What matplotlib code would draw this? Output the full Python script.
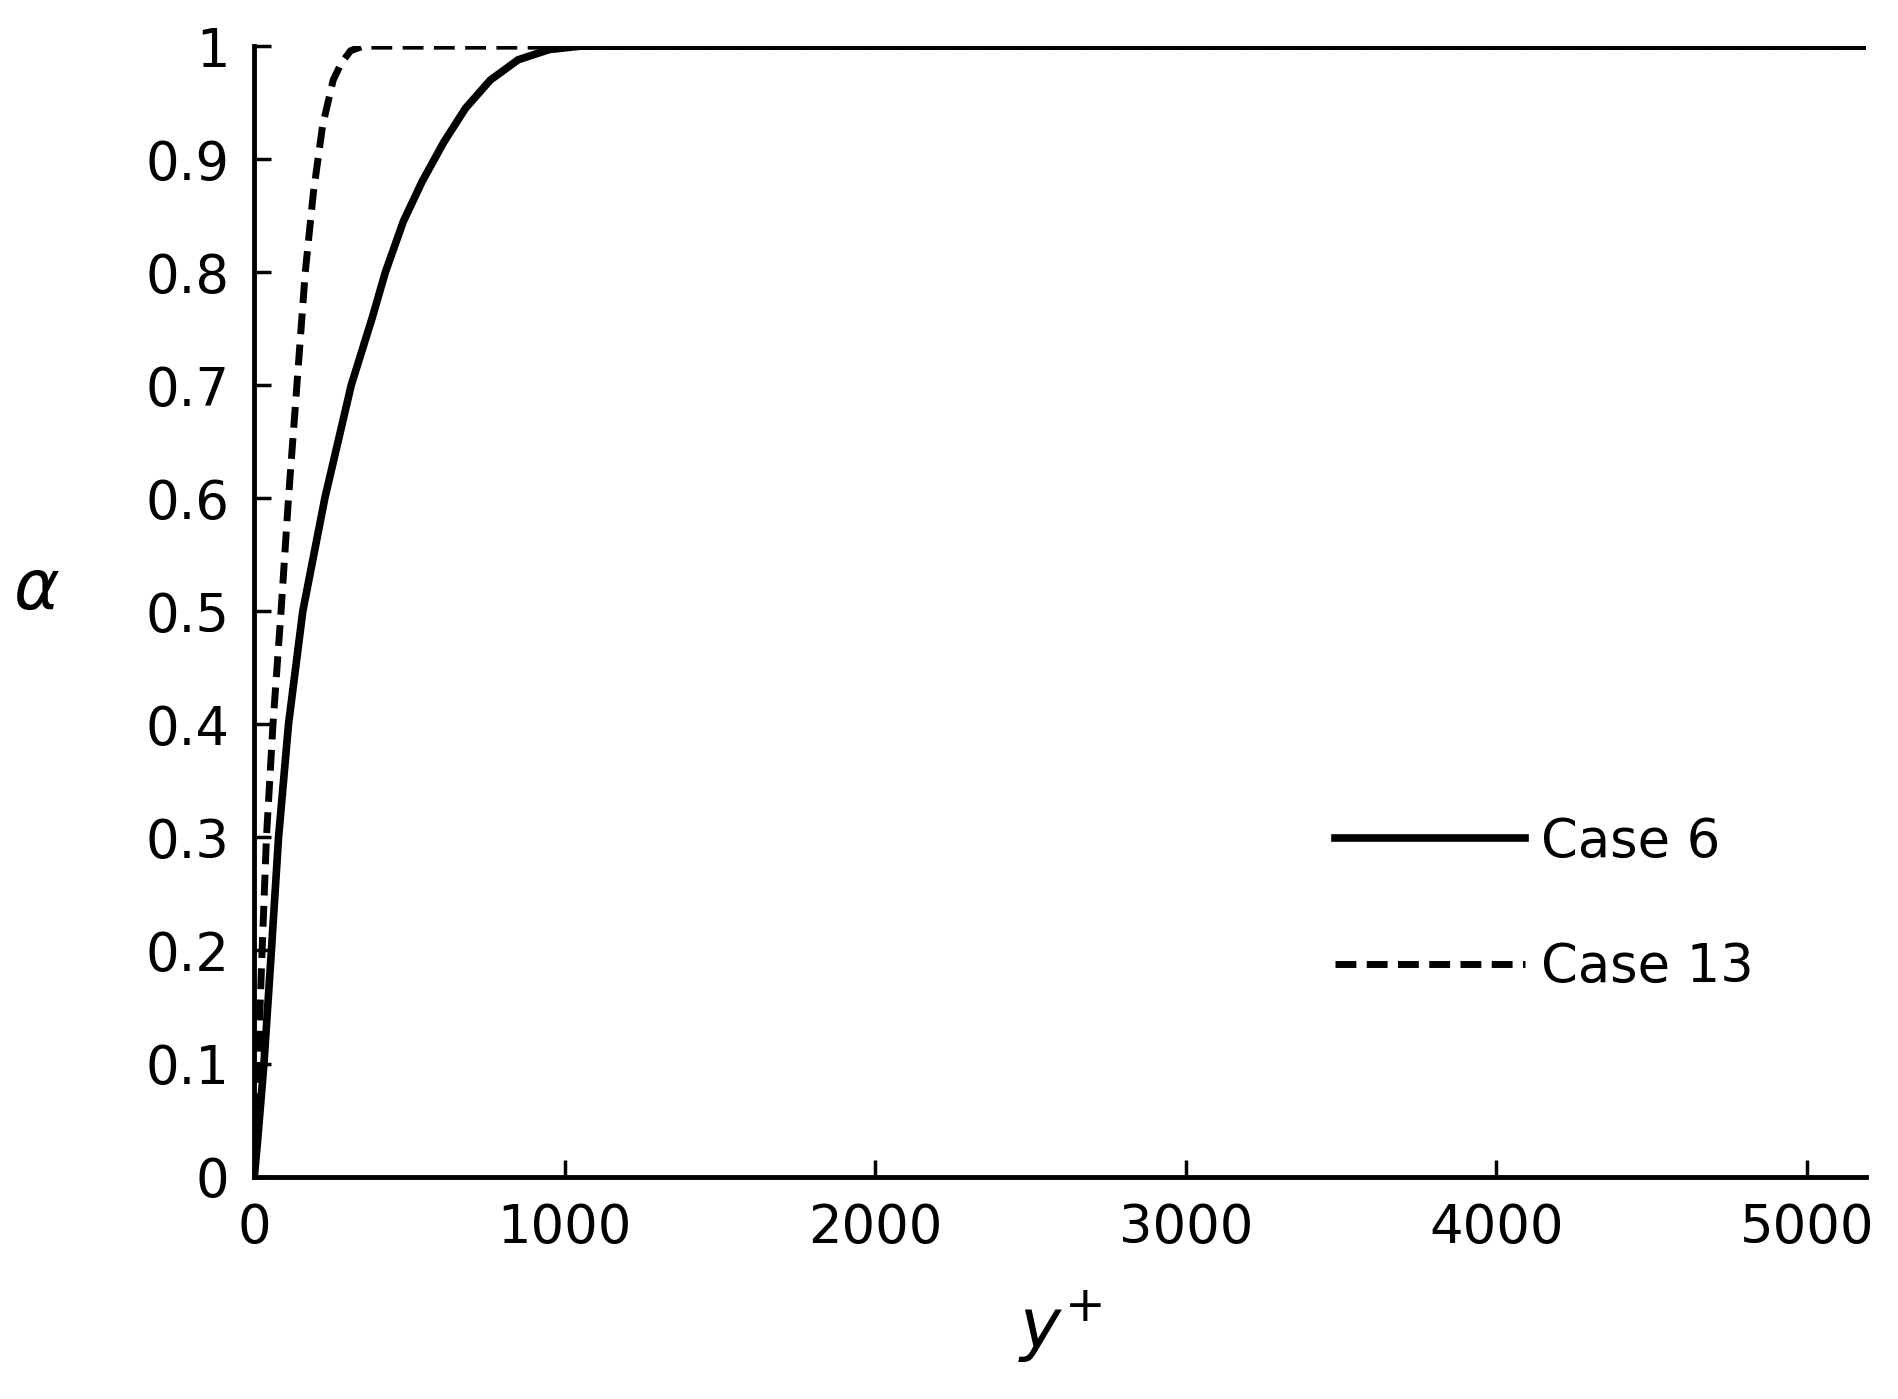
import matplotlib
matplotlib.use("Agg")
import matplotlib.pyplot as plt

case6_x = [0, 10, 31, 55, 78, 110, 156, 227, 312, 380, 422, 480, 540, 610, 680, 760, 850, 950, 1050, 5200]
case6_y = [0, 0.03, 0.1, 0.2, 0.3, 0.4, 0.5, 0.6, 0.7, 0.76, 0.8, 0.845, 0.88, 0.915, 0.945, 0.97, 0.988, 0.997, 1.0, 1.0]
case13_x = [0, 4, 12, 25, 39, 60, 86, 110, 137, 164, 190, 220, 254, 280, 310, 350, 5200]
case13_y = [0, 0.04, 0.1, 0.2, 0.3, 0.4, 0.5, 0.6, 0.7, 0.8, 0.87, 0.93, 0.97, 0.985, 0.996, 1.0, 1.0]

fig = plt.figure(figsize=(18.98, 13.99), dpi=100)
ax = fig.add_axes([0.134, 0.159, 0.849, 0.808])
ax.plot(case6_x, case6_y, color="black", lw=5.5, label="Case 6")
ax.plot(case13_x, case13_y, color="black", lw=5, ls=(0, (3, 1.5)), label="Case 13")
ax.set_xlim(0, 5190)
ax.set_ylim(0, 1)
ax.set_xticks([0, 1000, 2000, 3000, 4000, 5000])
ax.set_yticks([i / 10 for i in range(11)])
ax.set_yticklabels(["0"] + [f"{i/10:.1f}" for i in range(1, 10)] + ["1"])
ax.tick_params(labelsize=38, direction="in", length=12, width=2.5, pad=18)
for s in ["top", "right"]:
    ax.spines[s].set_visible(False)
for s in ["left", "bottom"]:
    ax.spines[s].set_linewidth(3.5)
ax.set_xlabel(r"$y^{+}$", fontsize=50)
ax.xaxis.set_label_coords(0.5, -0.1)
ax.set_ylabel(r"$\alpha$", fontsize=50, rotation=0)
ax.yaxis.set_label_coords(-0.135, 0.49)
ax.legend(loc="lower right", bbox_to_anchor=(0.96, 0.12), frameon=False, fontsize=38,
          handlelength=3.6, labelspacing=1.4, handletextpad=0.3)
fig.savefig("out.png", dpi=100)
